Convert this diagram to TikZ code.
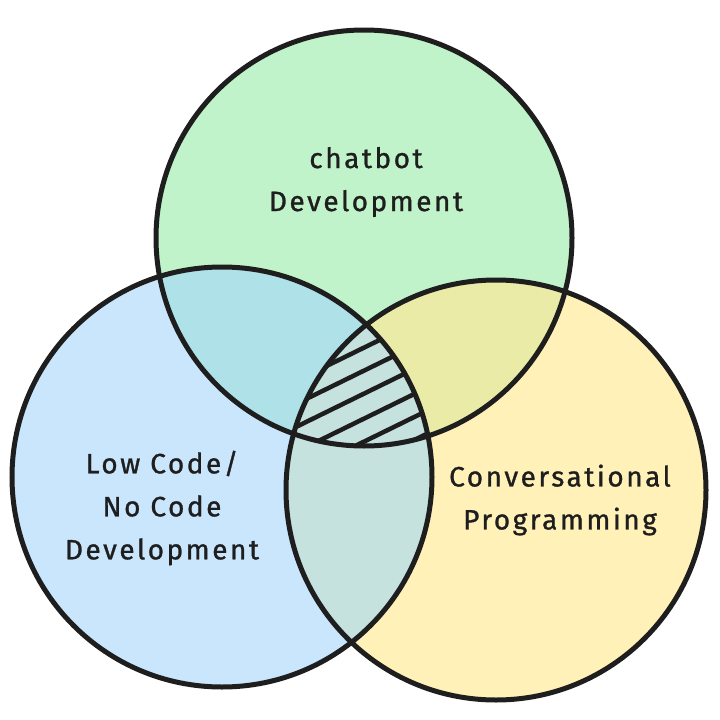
\documentclass[tikz,border=0pt]{standalone}
\usepackage{fontspec}
\setmainfont{Fira Sans}
\definecolor{cg}{HTML}{C0F3C9}
\definecolor{cb}{HTML}{C9E6FD}
\definecolor{cy}{HTML}{FFF1B8}
\definecolor{cgb}{HTML}{AEE1E8}
\definecolor{cgy}{HTML}{EAEBA6}
\definecolor{cby}{HTML}{C5E2DE}
\definecolor{ink}{HTML}{1E1E1E}
\begin{document}
\begin{tikzpicture}[x=1pt,y=-1pt,
  ring/.style={draw=ink,line width=5pt},
  hatchline/.style={draw=ink,line width=4.5pt,line cap=round},
  label/.style={text=ink,font=\fontsize{28}{43}\selectfont\addfontfeature{LetterSpace=9,FakeBold=1},align=center,inner sep=0pt}]
\path[use as bounding box] (0,0) rectangle (720,720);
\coordinate (G) at (364,238);
\coordinate (B) at (222,477);
\coordinate (Y) at (496,490);
% base fills
\fill[cb] (B) circle[radius=210pt];
\fill[cy] (Y) circle[radius=210pt];
\fill[cg] (G) circle[radius=208pt];
% overlaps
\begin{scope}
  \clip (G) circle[radius=208pt];
  \fill[cgb] (B) circle[radius=210pt];
  \fill[cgy] (Y) circle[radius=210pt];
\end{scope}
\begin{scope}
  \clip (B) circle[radius=210pt];
  \fill[cby] (Y) circle[radius=210pt];
\end{scope}
% hatching of the triple region
\begin{scope}
  \clip (G) circle[radius=208pt];
  \clip (B) circle[radius=210pt];
  \clip (Y) circle[radius=210pt];
  \fill[cby] (200,300) rectangle (500,460);
  \foreach \c in {526,549,572,597,620,643}{
    \draw[hatchline] (250,{\c-0.49*250}) -- (460,{\c-0.49*460});
  }
\end{scope}
% outlines
\draw[ring] (G) circle[radius=208pt];
\draw[ring] (B) circle[radius=210pt];
\draw[ring] (Y) circle[radius=210pt];
% labels
\node[label] (chat) at (366,182) {chatbot\\Development};
\node[label] (low) at (162,508) {Low Code/\\No Code\\Development};
\node[label] (conv) at (560,500) {Conversational\\Programming};
\end{tikzpicture}
\end{document}
